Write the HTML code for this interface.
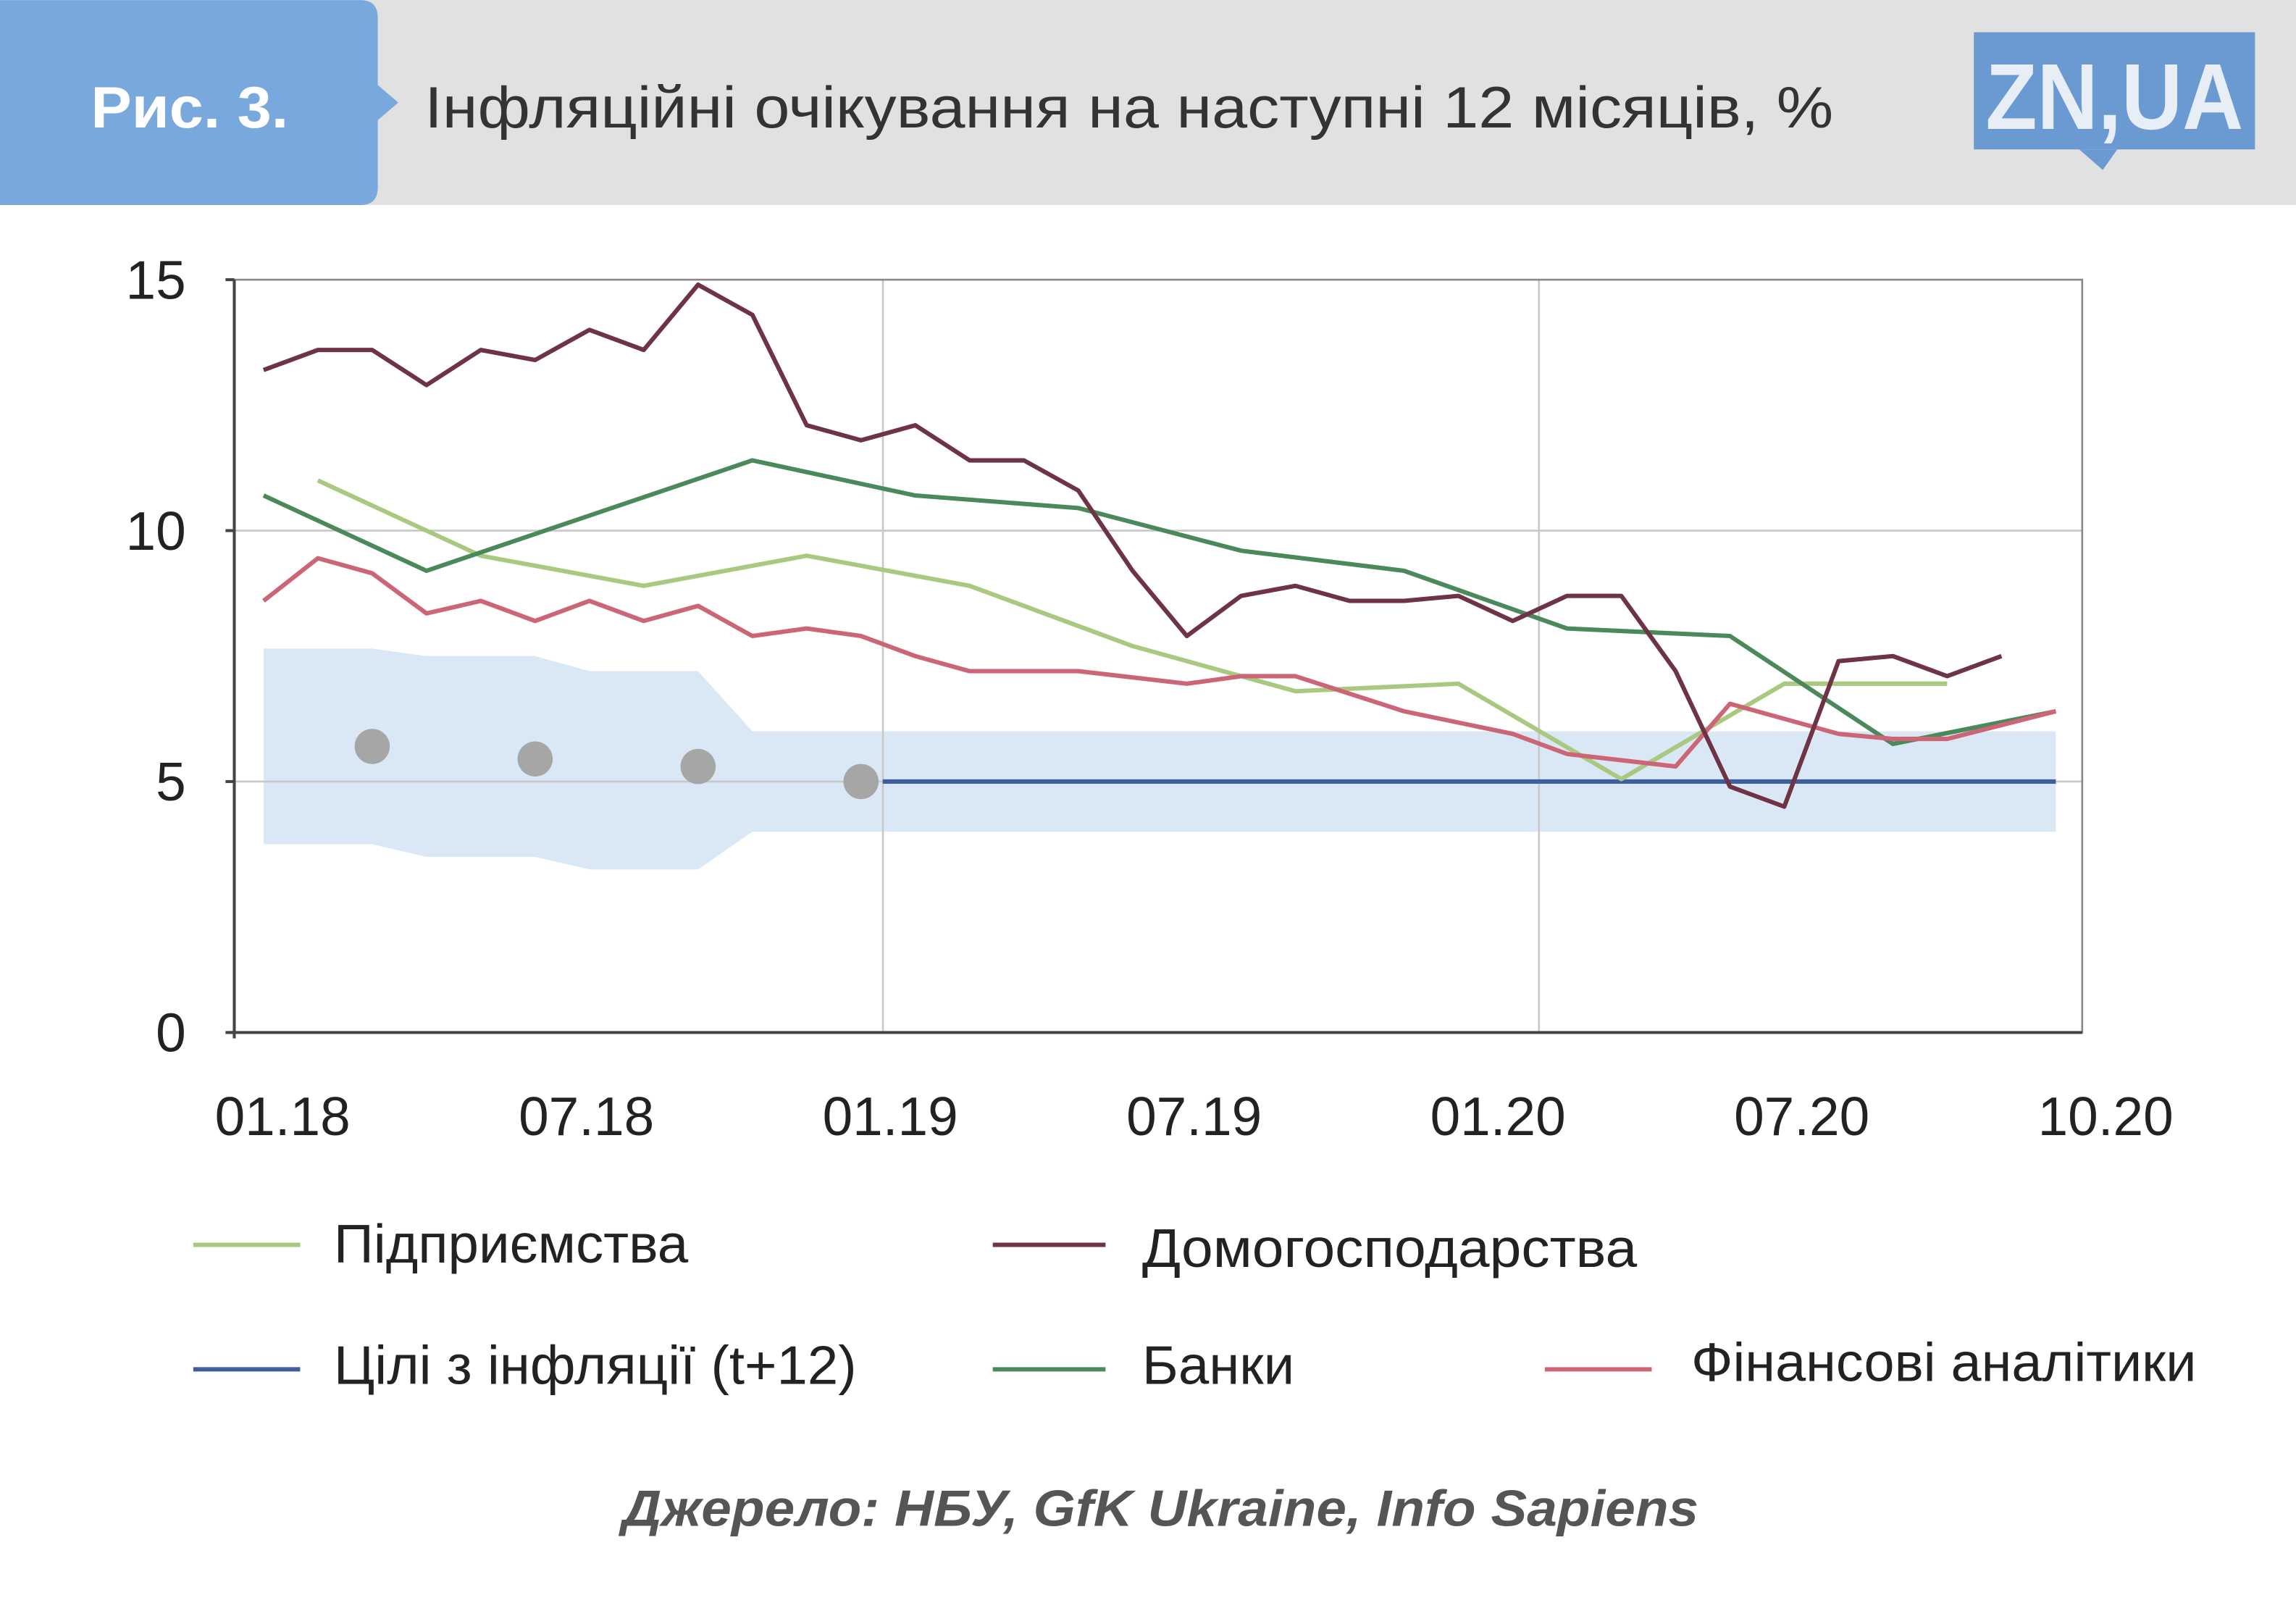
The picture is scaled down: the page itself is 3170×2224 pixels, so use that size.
<!DOCTYPE html>
<html><head><meta charset="utf-8"><style>
html,body{margin:0;padding:0;background:#fff}
svg{display:block}
text{font-family:"Liberation Sans","DejaVu Sans",sans-serif}
</style></head><body>
<svg id="chart" width="3170" height="2224" viewBox="0 0 1568 1100">
<rect x="0" y="0" width="1568" height="140" fill="#e1e1e1"/>
<path d="M0 0 H246 Q258 0 258 12 V58 L272 70 L258 82 V128 Q258 140 246 140 H0 Z" fill="#78a8dc"/>
<text x="62" y="87" font-size="40" font-weight="bold" fill="#fff" textLength="135" lengthAdjust="spacingAndGlyphs">Рис. 3.</text>
<text x="290" y="87" font-size="40" fill="#333" textLength="962" lengthAdjust="spacingAndGlyphs">Інфляційні очікування на наступні 12 місяців, %</text>
<g>
<rect x="1348" y="22" width="192" height="80" fill="#6b9ad3"/>
<path d="M1420 102 L1436 116 L1446 102 Z" fill="#6b9ad3"/>
<text x="1444" y="88" font-size="64" font-weight="bold" fill="#e8eef6" text-anchor="middle" textLength="176" lengthAdjust="spacingAndGlyphs">ZN,UA</text>
</g>
<g id="plot"></g>
<g>
<line x1="132" y1="850" x2="205" y2="850" stroke="#a8c97f" stroke-width="3"/>
<text x="228" y="862" font-size="37" fill="#222" textLength="242" lengthAdjust="spacingAndGlyphs">Підприємства</text>
<line x1="678" y1="850" x2="755" y2="850" stroke="#6e3345" stroke-width="3"/>
<text x="780" y="865" font-size="37" fill="#222" textLength="338" lengthAdjust="spacingAndGlyphs">Домогосподарства</text>
<line x1="132" y1="935" x2="205" y2="935" stroke="#3e5f9a" stroke-width="3"/>
<text x="228" y="945" font-size="37" fill="#222" textLength="357" lengthAdjust="spacingAndGlyphs">Цілі з інфляції (t+12)</text>
<line x1="678" y1="935" x2="755" y2="935" stroke="#4a8a5a" stroke-width="3"/>
<text x="780" y="945" font-size="37" fill="#222" textLength="104" lengthAdjust="spacingAndGlyphs">Банки</text>
<line x1="1055" y1="935" x2="1128" y2="935" stroke="#cc6677" stroke-width="3"/>
<text x="1155" y="943" font-size="37" fill="#222" textLength="345" lengthAdjust="spacingAndGlyphs">Фінансові аналітики</text>
</g>
<text x="425" y="1042" font-size="35" font-weight="bold" font-style="italic" fill="#555" textLength="735" lengthAdjust="spacingAndGlyphs">Джерело: НБУ, GfK Ukraine, Info Sapiens</text>
</svg>
<script>
const households=[13.2,13.6,13.6,12.9,13.6,13.4,14.0,13.6,14.9,14.3,12.1,11.8,12.1,11.4,11.4,10.8,9.2,7.9,8.7,8.9,8.6,8.6,8.7,8.2,8.7,8.7,7.2,4.9,4.5,7.4,7.5,7.1,7.5];
const entMonths=[1,4,7,10,13,16,19,22,25,28,31];
const entValues=[11.0,9.5,8.9,9.5,8.9,7.7,6.8,6.95,5.05,6.95,6.95];
const bankMonths=[0,3,9,12,15,18,21,24,27,30,33];
const bankValues=[10.7,9.2,11.4,10.7,10.45,9.6,9.2,8.05,7.9,5.75,6.4];
const finMonths=[0,1,2,3,4,5,6,7,8,9,10,11,12,13,15,17,18,19,21,23,24,26,27,29,30,31,33];
const finValues=[8.6,9.45,9.15,8.35,8.6,8.2,8.6,8.2,8.5,7.9,8.05,7.9,7.5,7.2,7.2,6.95,7.1,7.1,6.4,5.95,5.55,5.3,6.55,5.95,5.85,5.85,6.4];
const targetMonths=[11.4,33];
const targetValues=[5,5];
const dotMonths=[2,5,8,11];
const dotValues=[5.7,5.45,5.3,5.0];
const bandMonths=[0,2,3,5,6,8,9,33];
const bandUpper=[7.65,7.65,7.5,7.5,7.2,7.2,6.0,6.0];
const bandLower=[3.75,3.75,3.5,3.5,3.25,3.25,4.0,4.0];
const yTicks=[0,5,10,15];
const xTickLabels=["01.18","07.18","01.19","07.19","01.20","07.20","10.20"];

const NS="http://www.w3.org/2000/svg";
const X=i=>180+i*37.09;
const Y=v=>705-v*34.27;
const g=document.getElementById('plot');
function mk(t,a){const e=document.createElementNS(NS,t);for(const k in a)e.setAttribute(k,a[k]);g.appendChild(e);return e;}

let pts=bandMonths.map((m,i)=>X(m)+','+Y(bandUpper[i]));
for(let i=bandMonths.length-1;i>=0;i--)pts.push(X(bandMonths[i])+','+Y(bandLower[i]));
const band=mk('polygon',{points:pts.join(' '),fill:'#dae8f5'});



[5,10].forEach(v=>{const l=mk('line',{x1:160,x2:1422,y1:Y(v),y2:Y(v),stroke:'#c8c8c8','stroke-width':1.3});

});
[603,1051].forEach(x=>{const l=mk('line',{x1:x,x2:x,y1:Y(15),y2:Y(0),stroke:'#c8c8c8','stroke-width':1.3});

});
const fr=mk('rect',{x:160,y:Y(15),width:1262,height:Y(0)-Y(15),fill:'none',stroke:'#888','stroke-width':1.3});


const ya=mk('line',{x1:160,x2:160,y1:Y(15),y2:Y(0)+4,stroke:'#444','stroke-width':2});


const xa=mk('line',{x1:156,x2:1422,y1:Y(0),y2:Y(0),stroke:'#444','stroke-width':2});



yTicks.forEach(v=>{
 const tk=mk('line',{x1:154,x2:160,y1:Y(v),y2:Y(v),stroke:'#444','stroke-width':2});
 
 
 const t=mk('text',{x:127,y:Y(v)+13,'font-size':37,fill:'#222','text-anchor':'end'});t.textContent=v;
 
 
});
xTickLabels.forEach((s,i)=>{
 const t=mk('text',{x:193+i*207.5,y:775,'font-size':37,fill:'#222','text-anchor':'middle'});t.textContent=s;
 
 
});

function line(ms,vs,color,name){
 const p=mk('polyline',{points:ms.map((m,i)=>X(m)+','+Y(vs[i])).join(' '),fill:'none',stroke:color,'stroke-width':3,'stroke-linejoin':'round'});
 
 
}
line(targetMonths,targetValues,'#3e5f9a','target-line');
line(entMonths,entValues,'#a8c97f','enterprises-line');
line(bankMonths,bankValues,'#4a8a5a','banks-line');
line(finMonths,finValues,'#cc6677','analysts-line');
line(households.map((v,i)=>i),households,'#6e3345','households-line');
dotMonths.forEach((m,i)=>{
 const c=mk('circle',{cx:X(m),cy:Y(dotValues[i]),r:12,fill:'#a6a6a6'});
 
 
});
</script>
</body></html>
